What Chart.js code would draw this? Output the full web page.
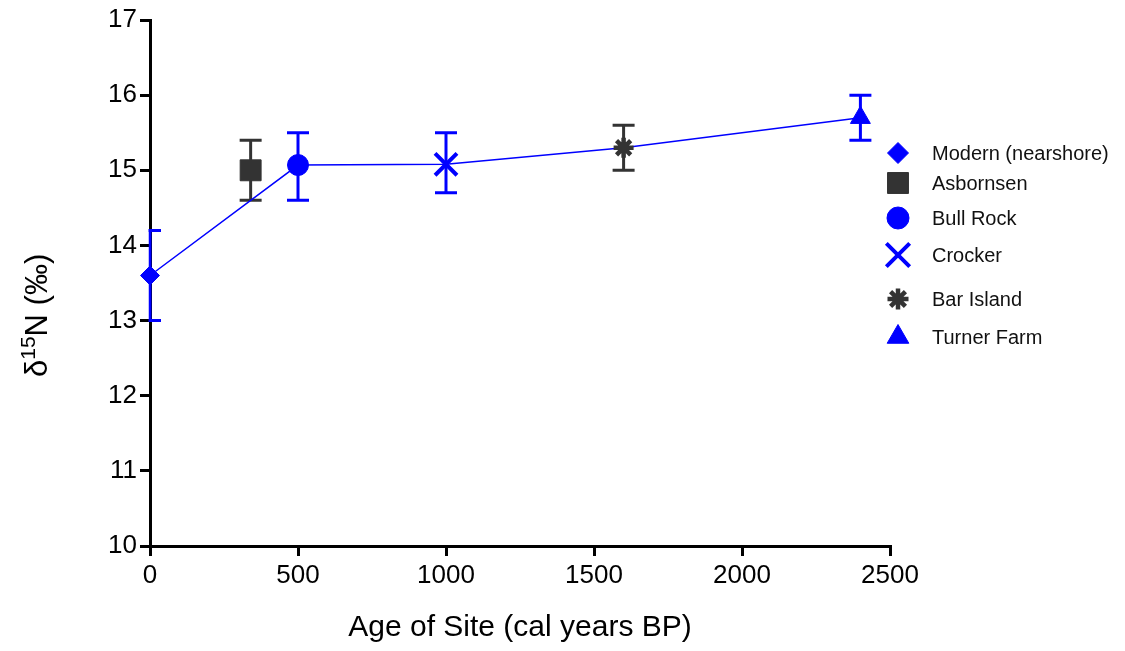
<!DOCTYPE html>
<html>
<head>
<meta charset="utf-8">
<title>d15N by site age</title>
<script src="https://cdn.jsdelivr.net/npm/chart.js@4.4.1/dist/chart.umd.min.js"></script>
<style>
  html, body { margin: 0; padding: 0; background: #fff; }
  #wrap { width: 1125px; height: 651px; }
</style>
</head>
<body>
<div id="wrap"><canvas id="isoChart" width="1125" height="651"></canvas></div>
<script>
// sites and values
const sites = ['Modern (nearshore)', 'Asbornsen', 'Bull Rock', 'Crocker', 'Bar Island', 'Turner Farm'];
const ages = [0, 340, 500, 1000, 1600, 2400];
const d15N = [13.6, 15.0, 15.07, 15.08, 15.3, 15.7];
const errLow = [13.0, 14.6, 14.6, 14.7, 15.0, 15.4];
const errHigh = [14.2, 15.4, 15.5, 15.5, 15.6, 16.0];
// which sites are joined by the trend line
const onLine = [true, false, true, true, true, true];

const xTicks = [0, 500, 1000, 1500, 2000, 2500];
const yTicks = [10, 11, 12, 13, 14, 15, 16, 17];

// marker look for each site
const BLUE = '#0000ff';
const DARK = '#333333';
const markerColor = [BLUE, DARK, BLUE, BLUE, DARK, BLUE];
const markerShape = ['rectRot', 'rect', 'circle', 'crossRot', 'star', 'triangle'];
const markerSize = [9.5, 14.8, 10.5, 15.5, 10, 11.5];
const markerLine = [1, 1, 1, 4, 4.5, 1];
const legendSize = [10.5, 14.8, 11, 16.5, 10.5, 12.5];
const legendRowY = [153, 183, 218, 255, 299, 337];

const FONT = '"Liberation Sans", Arial, Helvetica, sans-serif';

// error bars, drawn under the markers
const errorBars = {
  id: 'errorBars',
  beforeDatasetsDraw(chart) {
    const { ctx, chartArea, scales } = chart;
    ctx.save();
    ctx.beginPath();
    ctx.rect(chartArea.left - 1.5, 0, chart.width, chart.height);
    ctx.clip();
    ctx.lineWidth = 3;
    for (let i = 0; i < sites.length; i++) {
      const x = scales.x.getPixelForValue(ages[i]);
      const yLo = scales.y.getPixelForValue(errLow[i]);
      const yHi = scales.y.getPixelForValue(errHigh[i]);
      ctx.strokeStyle = markerColor[i];
      ctx.beginPath();
      ctx.moveTo(x, yLo);
      ctx.lineTo(x, yHi);
      ctx.moveTo(x - 11, yLo);
      ctx.lineTo(x + 11, yLo);
      ctx.moveTo(x - 11, yHi);
      ctx.lineTo(x + 11, yHi);
      ctx.stroke();
    }
    ctx.restore();
  }
};

// y title with superscript and the site legend
const extras = {
  id: 'extras',
  afterDraw(chart) {
    const ctx = chart.ctx;
    ctx.save();
    ctx.fillStyle = '#000';
    ctx.translate(47, 377);
    ctx.rotate(-Math.PI / 2);
    ctx.textBaseline = 'alphabetic';
    ctx.textAlign = 'left';
    let pos = 0;
    ctx.font = '31px ' + FONT;
    ctx.fillText('\u03b4', pos, 0);
    pos += ctx.measureText('\u03b4').width;
    ctx.font = '21px ' + FONT;
    ctx.fillText('15', pos, -12);
    pos += ctx.measureText('15').width;
    ctx.font = '31px ' + FONT;
    ctx.fillText('N (\u2030)', pos, 0);
    ctx.restore();

    ctx.save();
    for (let i = 0; i < sites.length; i++) {
      const y = legendRowY[i];
      ctx.fillStyle = markerColor[i];
      ctx.strokeStyle = markerColor[i];
      ctx.lineWidth = markerLine[i];
      Chart.helpers.drawPoint(ctx, {
        pointStyle: markerShape[i],
        radius: legendSize[i],
        borderWidth: markerLine[i],
        rotation: 0
      }, 898, y);
      ctx.font = '20px ' + FONT;
      ctx.fillStyle = '#111';
      ctx.textBaseline = 'middle';
      ctx.textAlign = 'left';
      ctx.fillText(sites[i], 932, y + 1);
    }
    ctx.restore();
  }
};

const siteSets = sites.map((name, i) => ({
  type: 'scatter',
  label: name,
  data: [{ x: ages[i], y: d15N[i] }],
  pointStyle: markerShape[i],
  pointRadius: markerSize[i],
  pointBorderWidth: markerLine[i],
  backgroundColor: markerColor[i],
  borderColor: markerColor[i],
  clip: false
}));

const trend = {
  type: 'line',
  label: 'trend',
  data: ages.map((a, i) => ({ x: a, y: d15N[i] })).filter((p, i) => onLine[i]),
  borderColor: BLUE,
  borderWidth: 1.5,
  pointRadius: 0,
  fill: false,
  tension: 0,
  clip: false
};

new Chart(document.getElementById('isoChart').getContext('2d'), {
  type: 'scatter',
  data: { datasets: [...siteSets, trend] },
  options: {
    responsive: false,
    animation: false,
    events: [],
    layout: { padding: { top: 20, right: 235, left: 0, bottom: 0 } },
    plugins: { legend: { display: false }, tooltip: { enabled: false } },
    scales: {
      x: {
        type: 'linear',
        min: 0,
        max: 2500,
        afterBuildTicks: (s) => { s.ticks = xTicks.map(v => ({ value: v })); },
        afterFit: (s) => { s.height = 105; },
        ticks: { color: '#000', padding: 4, font: { family: FONT, size: 26 }, callback: (v) => String(v) },
        grid: { drawOnChartArea: false, drawTicks: true, tickLength: 10, color: '#000', lineWidth: 3 },
        border: { display: true, color: '#000', width: 3 },
        title: {
          display: true,
          text: 'Age of Site (cal years BP)',
          color: '#000',
          font: { family: FONT, size: 30 },
          padding: { top: 0, bottom: 5 }
        }
      },
      y: {
        type: 'linear',
        min: 10,
        max: 17,
        afterBuildTicks: (s) => { s.ticks = yTicks.map(v => ({ value: v })); },
        afterFit: (s) => { s.width = 150; },
        ticks: { color: '#000', padding: 3, font: { family: FONT, size: 26 }, callback: (v) => String(v) },
        grid: { drawOnChartArea: false, drawTicks: true, tickLength: 10, color: '#000', lineWidth: 3 },
        border: { display: true, color: '#000', width: 3 }
      }
    }
  },
  plugins: [errorBars, extras]
});
</script>
</body>
</html>
